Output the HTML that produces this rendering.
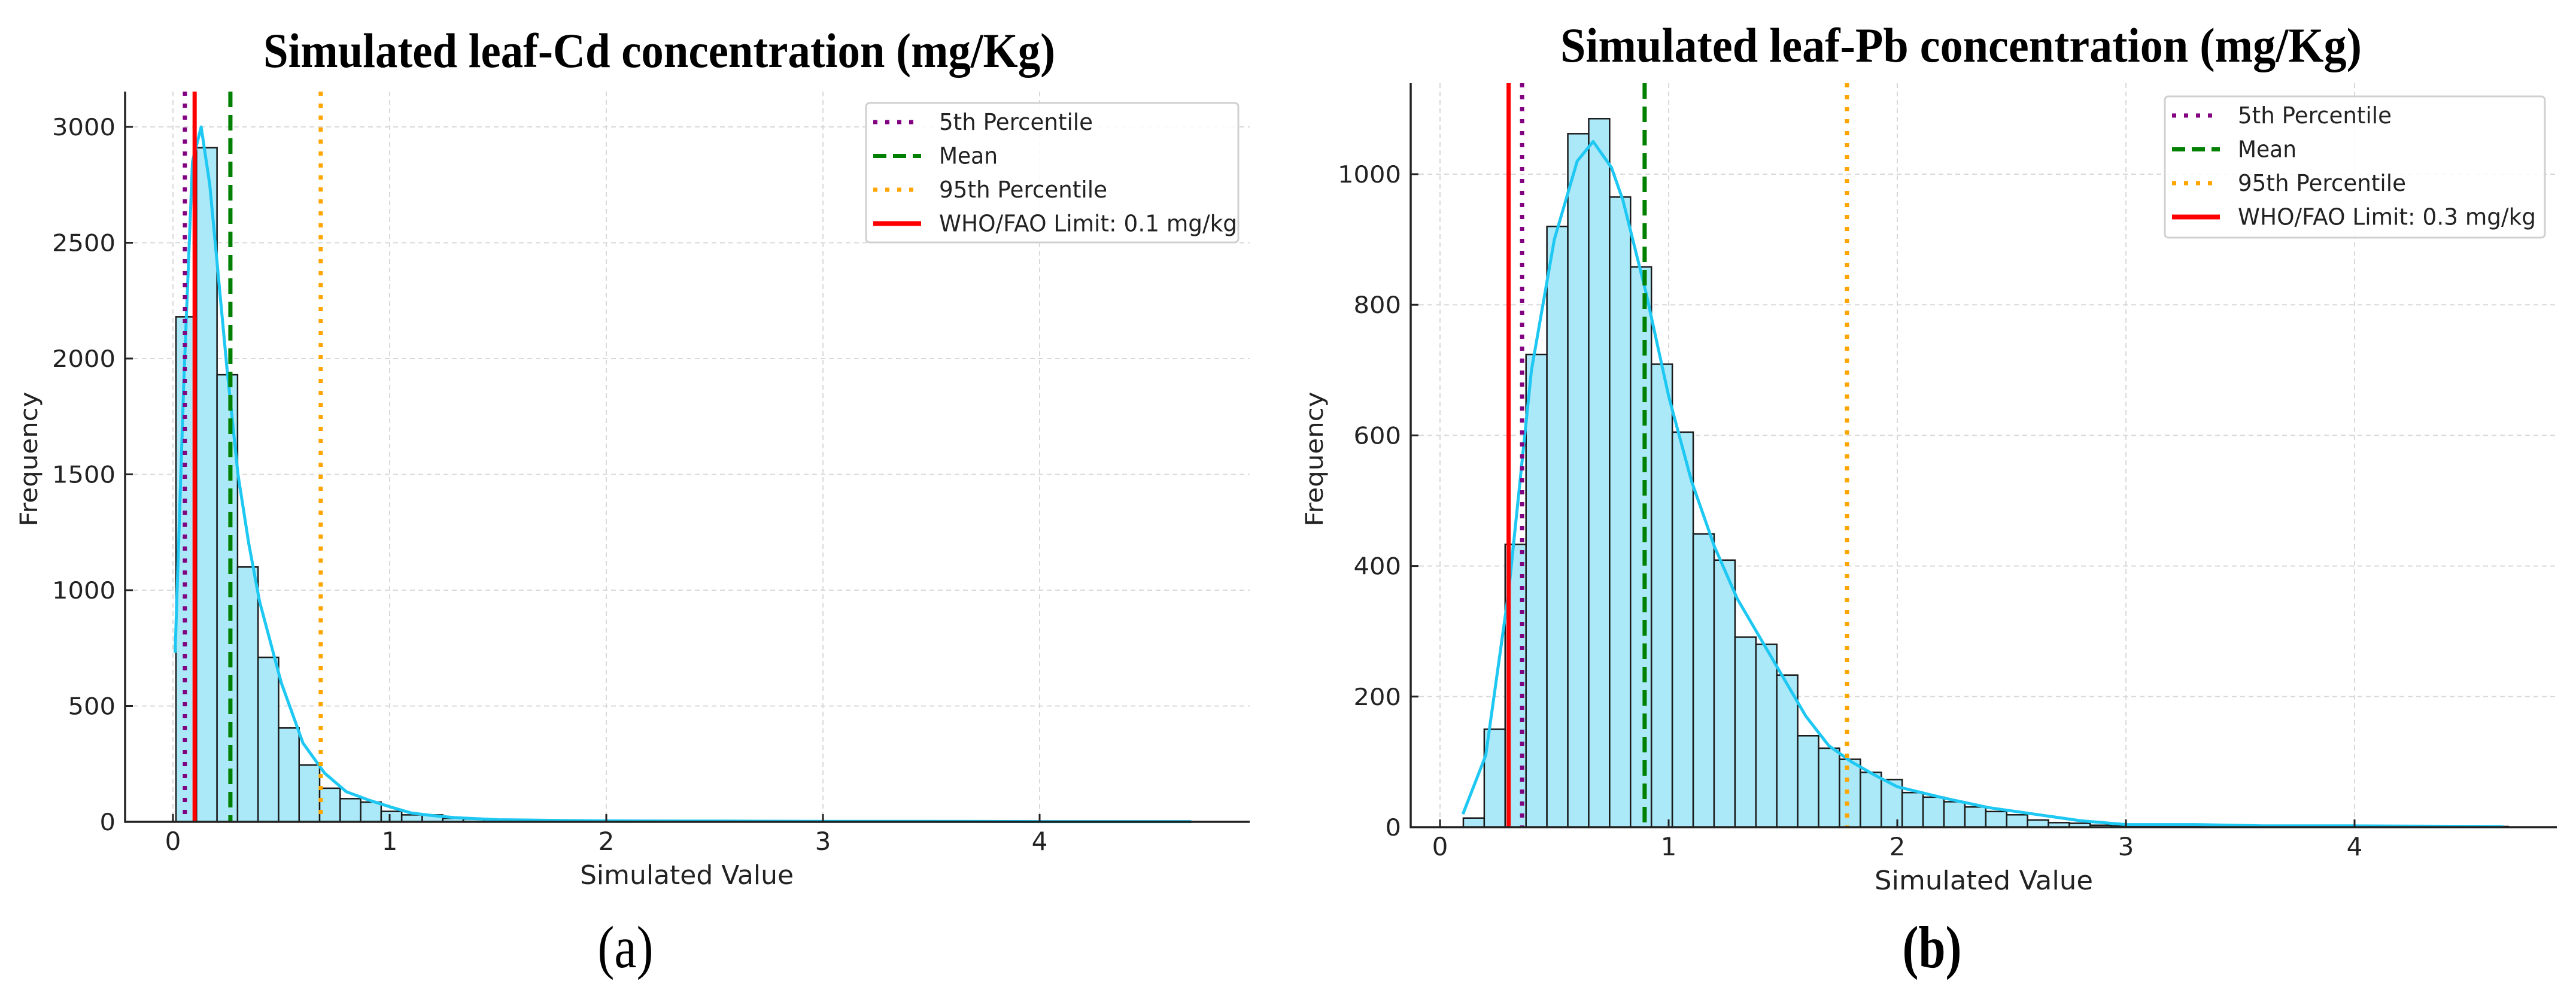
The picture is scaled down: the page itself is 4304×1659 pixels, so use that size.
<!DOCTYPE html>
<html><head><meta charset="utf-8"><style>
html,body{margin:0;padding:0;background:#fff;}
svg{display:block;}
</style></head><body>
<svg id="fig" width="4304" height="1659" viewBox="0 0 4304 1659" xmlns="http://www.w3.org/2000/svg"></svg>
<script>
// ---- Chart (a): leaf-Cd ----
const cdBinStart = 0.014;
const cdBinWidth = 0.0947;
const cdCounts = [2180,2910,1930,1100,710,405,245,145,100,85,45,30,30,15,12,10,8,6,5,5,4,3,3,3,2,2,2,2,1,1,1,1,1,1,1,0,1,0,1,0,0,1,0,0,1,0,0,0,1,0];
const cdKdeX = [0.01,0.05,0.09,0.13,0.17,0.2,0.25,0.3,0.35,0.4,0.5,0.6,0.7,0.8,0.9,1.0,1.1,1.2,1.3,1.5,1.8,2.0,2.5,3.0,3.5,4.0,4.7];
const cdKdeY = [730,1900,2850,3000,2750,2450,1950,1500,1200,950,600,340,210,130,95,65,38,27,18,9,6,4,3,2,2,1,1];
const cdYTicks = [0,500,1000,1500,2000,2500,3000];
const cdXTicks = [0,1,2,3,4];
const cdLines = [0.055,0.265,0.682,0.1];
const cdLegend = ["5th Percentile","Mean","95th Percentile","WHO/FAO Limit: 0.1 mg/kg"];

// ---- Chart (b): leaf-Pb ----
const pbBinStart = 0.102;
const pbBinWidth = 0.0914;
const pbCounts = [14,150,433,724,920,1062,1085,965,858,709,605,449,409,291,280,233,140,121,104,84,73,53,46,39,31,24,19,11,7,6,3,2,2,1,1,1,1,1,0,1,0,1,0,0,1,0,0,1,0,1];
const pbKdeX = [0.1,0.2,0.3,0.4,0.5,0.6,0.67,0.75,0.8,0.9,1.0,1.1,1.2,1.3,1.4,1.5,1.6,1.7,1.8,1.9,2.0,2.2,2.4,2.6,2.8,3.0,3.3,3.6,4.0,4.65];
const pbKdeY = [20,110,360,700,900,1020,1050,1010,960,820,660,530,430,350,290,230,170,125,100,80,62,45,30,20,10,4,4,2,2,1];
const pbYTicks = [0,200,400,600,800,1000];
const pbXTicks = [0,1,2,3,4];
const pbLines = [0.359,0.895,1.78,0.3];
const pbLegend = ["5th Percentile","Mean","95th Percentile","WHO/FAO Limit: 0.3 mg/kg"];

const NS = "http://www.w3.org/2000/svg";
const fig = document.getElementById('fig');
function mk(tag, attrs, parent){
  const e = document.createElementNS(NS, tag);
  for (const k in attrs) e.setAttribute(k, attrs[k]);
  (parent||fig).appendChild(e);
  return e;
}
const SANS = '"DejaVu Sans","Liberation Sans",sans-serif';
const SERIF = '"Liberation Serif","Times New Roman",serif';
const lineStyles = [
  {c:'#800080', w:7, dash:'7 13', name:'p5-line'},
  {c:'#008000', w:7, dash:'26 13', name:'mean-line'},
  {c:'#FFA500', w:7, dash:'7 13', name:'p95-line'},
  {c:'#FF0000', w:7, dash:'', name:'limit-line'}
];

function drawChart(cfg){
  const g = mk('g', {});
  
  
  const X = v => cfg.x0 + v*cfg.xs;
  const Y = v => cfg.yb - v*cfg.ys;
  cfg.xTicks.forEach(t=>{
    const l = mk('line',{x1:X(t),x2:X(t),y1:cfg.top,y2:cfg.yb,stroke:'#d9d9d9','stroke-width':2,'stroke-dasharray':'8 6'},g);
    
    
  });
  cfg.yTicks.forEach(t=>{
    if(t===0) return;
    const l = mk('line',{x1:cfg.left,x2:cfg.right,y1:Y(t),y2:Y(t),stroke:'#d9d9d9','stroke-width':2,'stroke-dasharray':'8 6'},g);
    
    
  });
  cfg.counts.forEach((c,i)=>{
    if(c<=0) return;
    const xa = X(cfg.binStart + i*cfg.binWidth), xb = X(cfg.binStart+(i+1)*cfg.binWidth);
    const r = mk('rect',{x:xa,y:Y(c),width:xb-xa,height:cfg.yb-Y(c),fill:'#ABE9F8',stroke:'#1a1a1a','stroke-width':2.5},g);
    
    
  });
  let d = cfg.kdeX.map((x,i)=>(i?'L':'M')+X(x).toFixed(1)+','+Y(cfg.kdeY[i]).toFixed(1)).join(' ');
  const k = mk('path',{d:d,fill:'none',stroke:'#1EC8F2','stroke-width':5,'stroke-linejoin':'round'},g);
  
  
  cfg.lines.forEach((v,i)=>{
    const s = lineStyles[i];
    const l = mk('line',{x1:X(v),x2:X(v),y1:cfg.top,y2:cfg.yb,stroke:s.c,'stroke-width':s.w},g);
    if(s.dash) l.setAttribute('stroke-dasharray', s.dash);
    
    
  });
  const sl = mk('line',{x1:cfg.left,x2:cfg.left,y1:cfg.top,y2:cfg.yb+1.5,stroke:'#222','stroke-width':3.5},g);
  
  
  const sb = mk('line',{x1:cfg.left-1.5,x2:cfg.right,y1:cfg.yb,y2:cfg.yb,stroke:'#222','stroke-width':3.5},g);
  
  
  cfg.yTicks.forEach(t=>{
    mk('line',{x1:cfg.left,x2:cfg.left+13,y1:Y(t),y2:Y(t),stroke:'#222','stroke-width':3},g);
    const s = String(t);
    const tx = mk('text',{x:cfg.left-16,y:Y(t)+14,'text-anchor':'end','font-family':SANS,'font-size':39,fill:'#222',textLength:s.length*26.5,lengthAdjust:'spacingAndGlyphs'},g);
    tx.textContent = s;
    
    
  });
  cfg.xTicks.forEach(t=>{
    mk('line',{x1:X(t),x2:X(t),y1:cfg.yb,y2:cfg.yb-13,stroke:'#222','stroke-width':3},g);
    const tx = mk('text',{x:X(t),y:cfg.yb+47,'text-anchor':'middle','font-family':SANS,'font-size':42,fill:'#222'},g);
    tx.textContent = String(t);
    
    
  });
  const xt = mk('text',{x:(cfg.xlabL+cfg.xlabR)/2,y:cfg.yb+104,'text-anchor':'middle','font-family':SANS,'font-size':44,fill:'#222',textLength:cfg.xlabR-cfg.xlabL,lengthAdjust:'spacingAndGlyphs'},g);
  xt.textContent = 'Simulated Value';
  
  
  const yt = mk('text',{x:0,y:0,'text-anchor':'middle','font-family':SANS,'font-size':40,fill:'#222',transform:`translate(${cfg.ylabX},${cfg.ylabY}) rotate(-90)`,textLength:225,lengthAdjust:'spacingAndGlyphs'},g);
  yt.textContent = 'Frequency';
  
  
  const tt = mk('text',{x:(cfg.titleL+cfg.titleR)/2,y:cfg.titleY,'text-anchor':'middle','font-family':SERIF,'font-weight':'bold','font-size':82,fill:'#000',textLength:cfg.titleR-cfg.titleL,lengthAdjust:'spacingAndGlyphs'},g);
  tt.textContent = cfg.title;
  
  
  const cp = mk('text',{x:cfg.capX,y:1616,'text-anchor':'middle','font-family':SERIF,'font-weight':cfg.capBold?'bold':'normal','font-size':100,fill:'#000',textLength:cfg.capW,lengthAdjust:'spacingAndGlyphs'},g);
  cp.textContent = cfg.caption;
  
  
  const lg = mk('g',{},g);
  
  
  mk('rect',{x:cfg.lgX,y:cfg.lgY,width:cfg.lgW,height:cfg.lgH,rx:6,fill:'#fff','fill-opacity':0.85,stroke:'#d0d0d0','stroke-width':3},lg);
  const widths = [257,98,281,498];
  cfg.legend.forEach((lab,i)=>{
    const s = lineStyles[i];
    const yy = cfg.lgY + 32 + i*56.5;
    const e = mk('g',{},lg);
    
    
    const hl = mk('line',{x1:cfg.lgX+12,x2:cfg.lgX+92,y1:yy,y2:yy,stroke:s.c,'stroke-width':i===3?8:7},e);
    if(s.dash) hl.setAttribute('stroke-dasharray', i===1?'22 11':'7 13');
    const t = mk('text',{x:cfg.lgX+122,y:yy+13,'font-family':SANS,'font-size':38,fill:'#222',textLength:widths[i],lengthAdjust:'spacingAndGlyphs'},e);
    t.textContent = lab;
  });
}

drawChart({name:'chart-cd', x0:289, xs:362, yb:1373, ys:1161/3000, top:153, left:209, right:2088,
  counts:cdCounts, binStart:cdBinStart, binWidth:cdBinWidth, kdeX:cdKdeX, kdeY:cdKdeY,
  yTicks:cdYTicks, xTicks:cdXTicks, lines:cdLines, legend:cdLegend,
  xlabL:969, xlabR:1326, ylabX:62, ylabY:767,
  title:'Simulated leaf-Cd concentration (mg/Kg)', titleL:440, titleR:1763, titleY:112,
  caption:'(a)', capX:1045, capW:93, capBold:false,
  lgX:1447, lgY:172, lgW:622, lgH:233});

drawChart({name:'chart-pb', x0:2406, xs:382, yb:1382, ys:1.091, top:139, left:2357, right:4272,
  counts:pbCounts, binStart:pbBinStart, binWidth:pbBinWidth, kdeX:pbKdeX, kdeY:pbKdeY,
  yTicks:pbYTicks, xTicks:pbXTicks, lines:pbLines, legend:pbLegend,
  xlabL:3132, xlabR:3497, ylabX:2210, ylabY:767,
  title:'Simulated leaf-Pb concentration (mg/Kg)', titleL:2607, titleR:3946, titleY:103,
  caption:'(b)', capX:3228, capW:99, capBold:true,
  lgX:3617, lgY:161, lgW:635, lgH:236});
</script>
</body></html>
